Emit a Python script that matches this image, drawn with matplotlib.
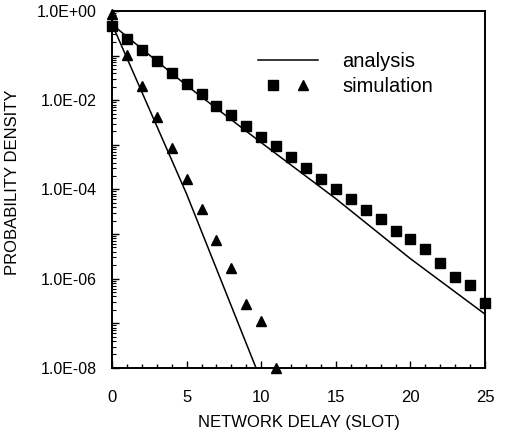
import math

import matplotlib
matplotlib.use("Agg")
import matplotlib.pyplot as plt
from matplotlib.lines import Line2D
from matplotlib.legend_handler import HandlerTuple
from matplotlib.ticker import FixedLocator, FuncFormatter, LogLocator, MultipleLocator, NullFormatter

plt.rcParams["font.family"] = ["Liberation Sans", "DejaVu Sans"]

# simulation results
sim_sq_x = list(range(0, 26))
sim_sq_y = [4.5e-1, 2.3e-1, 1.3e-1, 7.4e-2, 4.1e-2, 2.3e-2, 1.36e-2, 7.5e-3, 4.6e-3,
            2.6e-3, 1.5e-3, 9.4e-4, 5.4e-4, 3.1e-4, 1.7e-4, 1.04e-4, 6.1e-5, 3.4e-5,
            2.2e-5, 1.2e-5, 7.6e-6, 4.7e-6, 2.2e-6, 1.1e-6, 7.4e-7, 2.9e-7]
sim_tri_x = list(range(0, 12))
sim_tri_y = [8.5e-1, 1.05e-1, 2.1e-2, 4.3e-3, 8.4e-4, 1.7e-4, 3.6e-5, 7.4e-6, 1.7e-6,
             2.7e-7, 1.1e-7, 1.0e-8]

# analysis curves
ana_slow_x = [0, 5, 10, 15, 20, 25]
ana_slow_y = [5.0e-1, 2.14e-2, 1.12e-3, 6.2e-5, 2.8e-6, 1.6e-7]
ana_fast_x = [0, 5, 10]
ana_fast_y = [5.1e-1, 7.9e-5, 5.1e-9]

y_labels = {0: "1.0E+00", -2: "1.0E-02", -4: "1.0E-04", -6: "1.0E-06", -8: "1.0E-08"}

fig = plt.figure(figsize=(5.09, 4.38), dpi=100)
ax = fig.add_axes([0.220, 0.160, 0.733, 0.815])

ax.plot(ana_slow_x, ana_slow_y, color="black", linewidth=1.1)
ax.plot(ana_fast_x, ana_fast_y, color="black", linewidth=1.1)
ax.plot(sim_sq_x, sim_sq_y, linestyle="none", marker="s", markersize=7,
        color="black", clip_on=False, zorder=3)
ax.plot(sim_tri_x, sim_tri_y, linestyle="none", marker="^", markersize=7.5,
        color="black", clip_on=False, zorder=3)

ax.set_yscale("log")
ax.set_xlim(0, 25)
ax.set_ylim(1e-8, 1)

ax.xaxis.set_major_locator(MultipleLocator(5))
ax.xaxis.set_minor_locator(MultipleLocator(1))
ax.yaxis.set_major_locator(FixedLocator([10.0 ** k for k in range(-8, 1)]))
ax.yaxis.set_minor_locator(LogLocator(base=10, subs=range(2, 10), numticks=20))
ax.yaxis.set_minor_formatter(NullFormatter())


def fmt_y(v, _pos):
    k = int(round(math.log10(v)))
    return y_labels.get(k, "")


ax.yaxis.set_major_formatter(FuncFormatter(fmt_y))

ax.tick_params(axis="both", which="both", direction="in", top=False, right=False,
               color="black")
ax.tick_params(axis="x", which="major", length=5, width=1, pad=16, labelsize=12)
ax.tick_params(axis="x", which="minor", length=3, width=1)
ax.tick_params(axis="y", which="major", length=5, width=1, pad=11, labelsize=11.5)
ax.tick_params(axis="y", which="minor", length=3, width=0.8)

for side in ax.spines.values():
    side.set_linewidth(1.4)
    side.set_color("black")

ax.set_xlabel("NETWORK DELAY (SLOT)", fontsize=12)
ax.xaxis.set_label_coords(0.5, -0.132)
ax.set_ylabel("PROBABILITY DENSITY", fontsize=12)
ax.yaxis.set_label_coords(-0.247, 0.52)

h_line = Line2D([], [], color="black", linewidth=1.1)
h_sq = Line2D([], [], linestyle="none", marker="s", markersize=7, color="black")
h_tri = Line2D([], [], linestyle="none", marker="^", markersize=7.5, color="black")
ax.legend([h_line, (h_sq, h_tri)], ["analysis", "simulation"],
          handler_map={tuple: HandlerTuple(ndivide=None, pad=0)},
          loc="upper left", bbox_to_anchor=(0.391, 0.885), frameon=False,
          fontsize=14.5, handlelength=3.0, handletextpad=1.2, labelspacing=0.3,
          borderpad=0, borderaxespad=0)

fig.savefig("out.png", dpi=100)
